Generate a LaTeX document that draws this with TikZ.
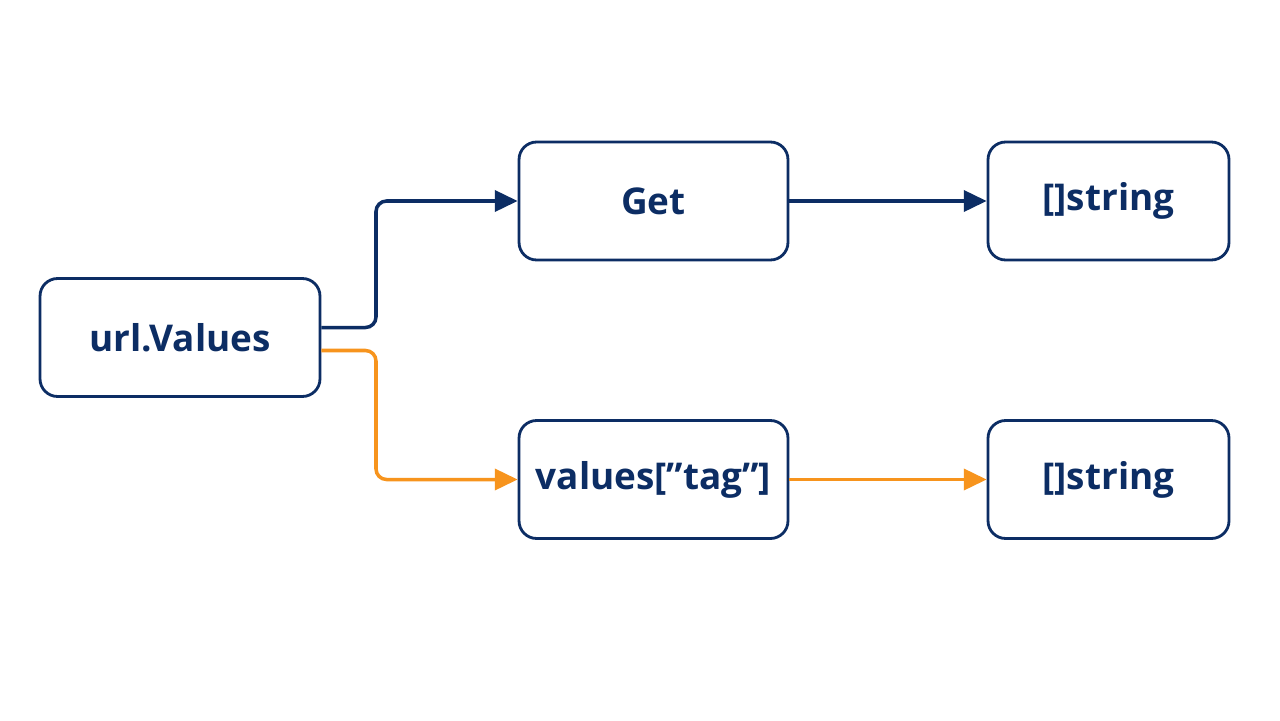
\documentclass[tikz,border=0pt]{standalone}
\usepackage{fontspec}
\setmainfont{Open Sans}
\usetikzlibrary{arrows.meta}
\definecolor{navy}{HTML}{0C2D64}
\definecolor{amber}{HTML}{F7941D}
\tikzset{box/.style={rectangle, draw=navy, line width=1.6pt, rounded corners=10pt,
    minimum height=2.36cm, text=navy, font=\fontsize{21}{25}\selectfont\bfseries},
  link/.style={-{Triangle[length=13pt,width=12pt]}, line width=2pt, rounded corners=6pt}}
\begin{document}
\begin{tikzpicture}[x=0.02cm,y=-0.02cm]
  \useasboundingbox[fill=white] (0,0) rectangle (1280,720);

  \node[box,minimum width=5.6cm]  (vals) at (180,337.5)  {url.Values};
  \node[box,minimum width=5.38cm] (get)  at (653.5,201)  {Get};
  \node[box,minimum width=4.82cm] (str1) at (1108.5,201) {[]string};
  \node[box,minimum width=5.38cm] (tag)  at (653.5,479.5) {values[\symbol{34}tag\symbol{34}]};
  \node[box,minimum width=4.82cm] (str2) at (1108.5,479.5) {[]string};

  \draw[link,navy]  ([yshift=0.2cm]vals.east) -| (376,250) |- (get.west);
  \draw[link,amber] ([yshift=-0.26cm]vals.east) -| (376,420) |- (tag.west);
  \draw[link,navy]  (get) -- (str1);
  \draw[link,amber] (tag) -- (str2);
\end{tikzpicture}
\end{document}
